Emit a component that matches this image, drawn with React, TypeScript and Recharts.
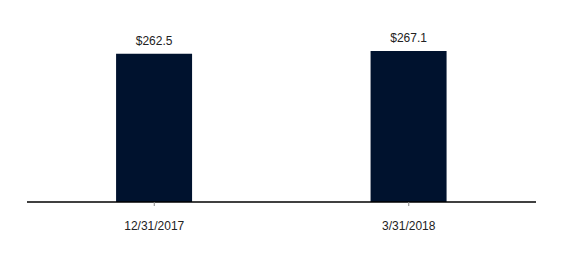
import React from 'react';
import { BarChart, Bar, XAxis, YAxis, LabelList } from 'recharts';

const periods = ['12/31/2017', '3/31/2018'];
const amounts = [262.5, 267.1];

const data = periods.map((period, i) => ({ period, amount: amounts[i] }));

const App: React.FC = () => {
  return (
    <div style={{ position: 'absolute', left: 0, top: 0, width: 569, height: 258, background: '#fff', fontFamily: 'Arial, "Liberation Sans", sans-serif' }}>
      <BarChart
        width={569}
        height={258}
        data={data}
        margin={{ top: 20, right: 33, bottom: 26, left: 27 }}
        barCategoryGap="35%"
      >
        <XAxis
          dataKey="period"
          axisLine={{ stroke: '#000', strokeWidth: 1.5 }}
          tickLine={{ stroke: '#888' }}
          tickSize={4}
          tickMargin={15}
          tick={{ fontSize: 12, fill: '#222' }}
        />
        <YAxis hide domain={[0, 322]} />
        <Bar dataKey="amount" fill="#00122e" isAnimationActive={false}>
          <LabelList
            dataKey="amount"
            position="top"
            offset={9}
            formatter={(v: any) => `$${Number(v).toFixed(1)}`}
            style={{ fontSize: 12, fill: '#222' }}
          />
        </Bar>
      </BarChart>
    </div>
  );
};

export default App;
